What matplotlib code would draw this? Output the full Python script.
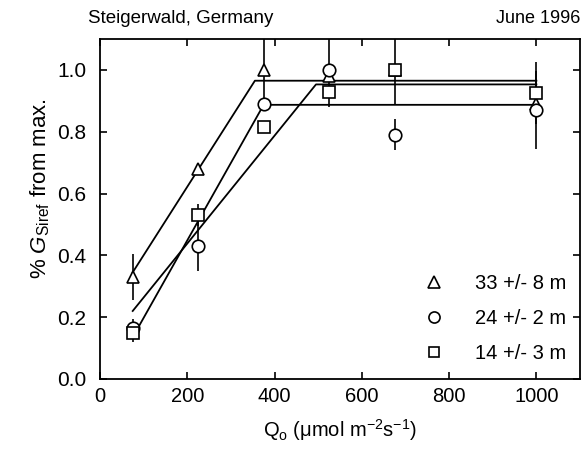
import numpy as np
import matplotlib
matplotlib.use('Agg')
import matplotlib.pyplot as plt
from matplotlib.lines import Line2D

plt.rcParams['font.family'] = ['Liberation Sans', 'DejaVu Sans']
plt.rcParams['mathtext.fontset'] = 'custom'
plt.rcParams['mathtext.rm'] = 'Liberation Sans'
plt.rcParams['mathtext.it'] = 'Liberation Sans:italic'

# light levels (umol m-2 s-1)
q = [75, 225, 375, 525, 675, 1000]

# 33 +/- 8 m
tri = [0.33, 0.68, 1.00, 0.98, 1.00, 0.89]
tri_err = [0.075, 0.0, 0.10, 0.0, 0.11, 0.0]
tri_fit_x = [75, 355, 1000]
tri_fit_y = [0.345, 0.965, 0.965]

# 24 +/- 2 m
circ = [0.165, 0.43, 0.89, 1.00, 0.79, 0.87]
circ_err = [0.03, 0.08, 0.0, 0.12, 0.05, 0.125]
circ_fit_x = [75, 375, 1000]
circ_fit_y = [0.135, 0.887, 0.887]

# 14 +/- 3 m
sq = [0.15, 0.53, 0.815, 0.93, 1.00, 0.925]
sq_err = [0.03, 0.035, 0.0, 0.0, 0.0, 0.10]
sq_fit_x = [75, 495, 1000]
sq_fit_y = [0.22, 0.953, 0.953]

labels = ['33 +/- 8 m', '24 +/- 2 m', '14 +/- 3 m']

fig = plt.figure(figsize=(5.86, 4.57), dpi=100)
ax = fig.add_axes([0.1706, 0.1707, 0.9898 - 0.1706, 0.9147 - 0.1707])

for x, y in [(tri_fit_x, tri_fit_y), (circ_fit_x, circ_fit_y), (sq_fit_x, sq_fit_y)]:
    ax.plot(x, y, color='black', lw=1.3, zorder=2)

def draw(y, err, marker, ms):
    ax.errorbar(q, y, yerr=err, marker=marker, color='black', mfc='white', mec='black',
                mew=1.2, ms=ms, ls='none', elinewidth=1.2, capsize=0, zorder=3)

draw(tri, tri_err, '^', 9)
draw(circ, circ_err, 'o', 9)
draw(sq, sq_err, 's', 8)

handles = [Line2D([], [], ls='none', marker=m, ms=s, mfc='white', mec='black', mew=1.2)
           for m, s in [('^', 8), ('o', 8), ('s', 7)]]
ax.legend(handles, labels, loc='lower right', frameon=False, fontsize=14.5,
          handletextpad=1.3, labelspacing=0.78, bbox_to_anchor=(1.01, -0.005),
          handlelength=1.5)

ax.set_xlim(0, 1100)
ax.set_ylim(0, 1.1)
ax.set_xticks([0, 200, 400, 600, 800, 1000])
ax.set_yticks([0.0, 0.2, 0.4, 0.6, 0.8, 1.0])
ax.set_yticklabels(['0.0', '0.2', '0.4', '0.6', '0.8', '1.0'])
ax.tick_params(direction='in', top=True, right=True, labelsize=14.5, length=5, width=1.2, pad=6)
ax.tick_params(axis='y', labelsize=15, pad=10)
for s in ax.spines.values():
    s.set_linewidth(1.3)

ax.set_xlabel(r'$\mathrm{Q_o}$ ($\mathrm{\mu}$mol m$^{-2}$s$^{-1}$)', fontsize=14.5, labelpad=8)
ax.set_ylabel(r'% $G_{\mathrm{Siref}}$ from max.', fontsize=16)
ax.yaxis.set_label_coords(-0.1, 0.56)

ax.text(-0.025, 1.035, 'Steigerwald, Germany', transform=ax.transAxes, fontsize=13.5, ha='left', va='bottom')
ax.text(1.0, 1.035, 'June 1996', transform=ax.transAxes, fontsize=13, ha='right', va='bottom')

fig.savefig('out.png', dpi=100)
